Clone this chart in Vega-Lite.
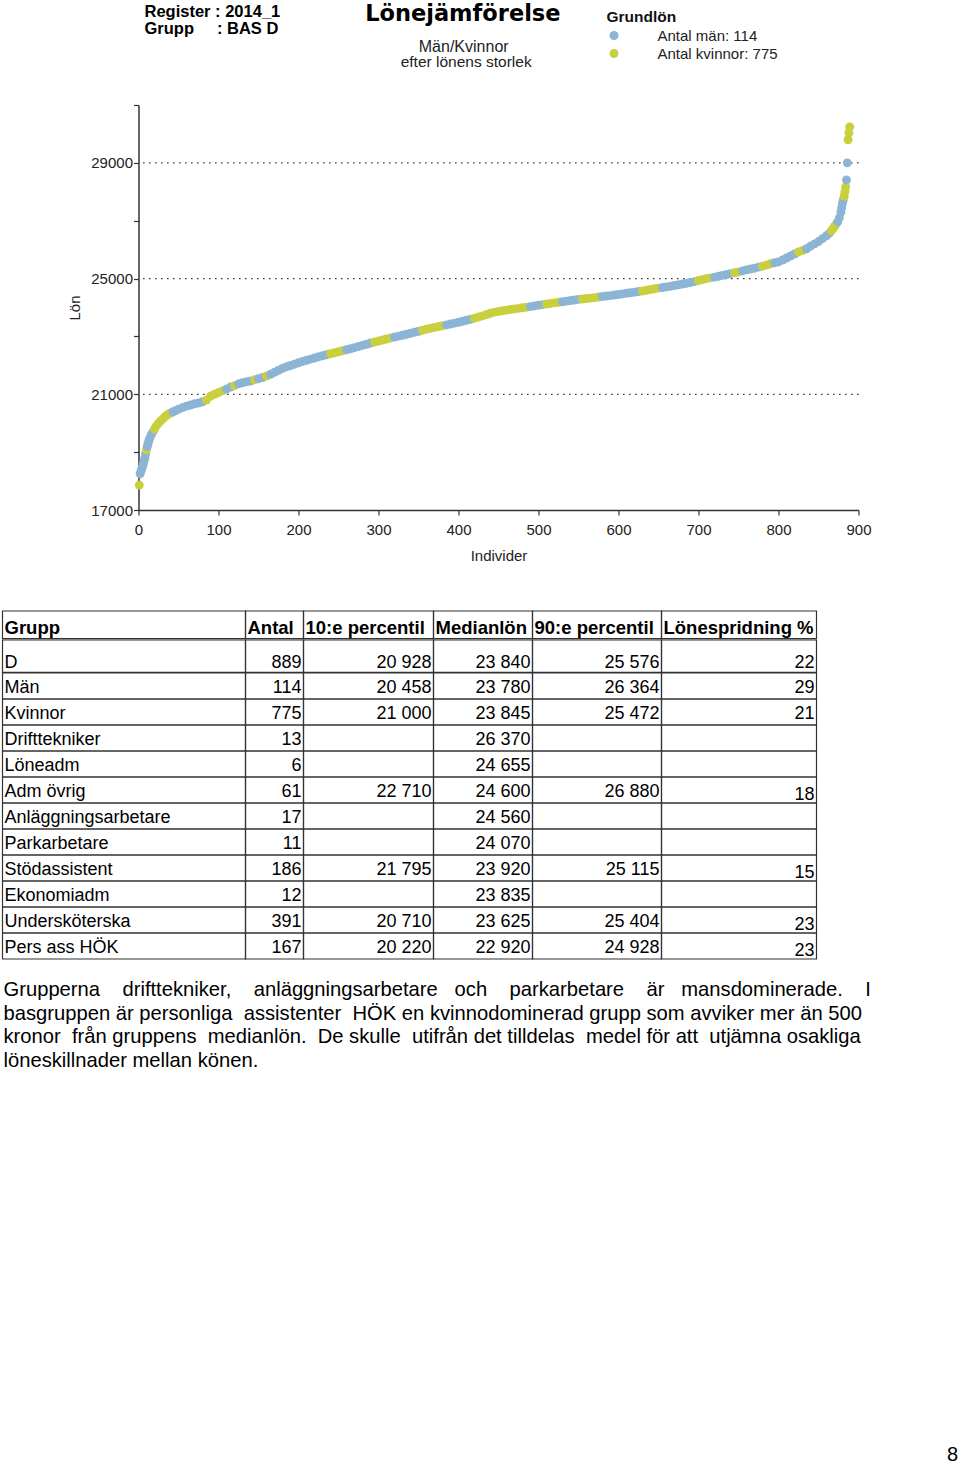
{
  "$schema": "https://vega.github.io/schema/vega-lite/v6.json",
  "background": "white",
  "padding": {"left": 1.5, "top": 2, "right": 0, "bottom": 0},
  "config": {
    "view": {"stroke": null},
    "font": "Liberation Sans",
    "locale": {"number": {"decimal": ",", "thousands": " ", "grouping": [3], "currency": ["", " kr"]}}
  },
  "datasets": {
    "loner": [
      {"nr":1,"lon":17860,"kon":"K"},{"nr":2,"lon":18250,"kon":"M"},{"nr":3,"lon":18330,"kon":"M"},{"nr":4,"lon":18420,"kon":"M"},{"nr":5,"lon":18500,"kon":"M"},{"nr":6,"lon":18600,"kon":"M"},{"nr":7,"lon":18700,"kon":"M"},{"nr":8,"lon":18800,"kon":"M"},{"nr":9,"lon":18950,"kon":"M"},{"nr":10,"lon":19080,"kon":"K"},
      {"nr":11,"lon":19200,"kon":"M"},{"nr":12,"lon":19300,"kon":"M"},{"nr":13,"lon":19400,"kon":"M"},{"nr":14,"lon":19480,"kon":"M"},{"nr":16,"lon":19600,"kon":"M"},{"nr":18,"lon":19700,"kon":"M"},{"nr":20,"lon":19800,"kon":"K"},{"nr":22,"lon":19900,"kon":"K"},{"nr":25,"lon":20000,"kon":"K"},{"nr":28,"lon":20090,"kon":"K"},
      {"nr":31,"lon":20170,"kon":"K"},{"nr":34,"lon":20250,"kon":"K"},{"nr":37,"lon":20310,"kon":"K"},{"nr":40,"lon":20350,"kon":"K"},{"nr":43,"lon":20390,"kon":"M"},{"nr":46,"lon":20430,"kon":"M"},{"nr":50,"lon":20480,"kon":"M"},{"nr":55,"lon":20540,"kon":"M"},{"nr":60,"lon":20590,"kon":"M"},{"nr":65,"lon":20630,"kon":"M"},
      {"nr":70,"lon":20670,"kon":"M"},{"nr":75,"lon":20700,"kon":"M"},{"nr":80,"lon":20740,"kon":"M"},{"nr":85,"lon":20800,"kon":"K"},{"nr":90,"lon":20930,"kon":"K"},{"nr":95,"lon":21000,"kon":"K"},{"nr":100,"lon":21060,"kon":"K"},{"nr":105,"lon":21120,"kon":"K"},{"nr":110,"lon":21180,"kon":"M"},{"nr":115,"lon":21250,"kon":"M"},
      {"nr":120,"lon":21300,"kon":"K"},{"nr":125,"lon":21360,"kon":"M"},{"nr":130,"lon":21400,"kon":"M"},{"nr":135,"lon":21430,"kon":"M"},{"nr":140,"lon":21460,"kon":"M"},{"nr":145,"lon":21500,"kon":"K"},{"nr":150,"lon":21540,"kon":"M"},{"nr":155,"lon":21580,"kon":"M"},{"nr":160,"lon":21630,"kon":"K"},{"nr":165,"lon":21690,"kon":"M"},
      {"nr":170,"lon":21760,"kon":"M"},{"nr":175,"lon":21830,"kon":"M"},{"nr":180,"lon":21900,"kon":"M"},{"nr":185,"lon":21950,"kon":"M"},{"nr":190,"lon":21995,"kon":"M"},{"nr":195,"lon":22040,"kon":"M"},{"nr":200,"lon":22090,"kon":"M"},{"nr":205,"lon":22135,"kon":"M"},{"nr":210,"lon":22175,"kon":"M"},{"nr":215,"lon":22215,"kon":"M"},
      {"nr":220,"lon":22255,"kon":"M"},{"nr":225,"lon":22295,"kon":"M"},{"nr":230,"lon":22330,"kon":"M"},{"nr":235,"lon":22365,"kon":"M"},{"nr":240,"lon":22400,"kon":"K"},{"nr":245,"lon":22435,"kon":"K"},{"nr":250,"lon":22470,"kon":"K"},{"nr":255,"lon":22505,"kon":"K"},{"nr":260,"lon":22540,"kon":"M"},{"nr":265,"lon":22575,"kon":"M"},
      {"nr":270,"lon":22610,"kon":"M"},{"nr":275,"lon":22650,"kon":"M"},{"nr":280,"lon":22690,"kon":"M"},{"nr":285,"lon":22730,"kon":"M"},{"nr":290,"lon":22770,"kon":"M"},{"nr":295,"lon":22805,"kon":"K"},{"nr":300,"lon":22840,"kon":"K"},{"nr":305,"lon":22875,"kon":"K"},{"nr":310,"lon":22910,"kon":"K"},{"nr":315,"lon":22945,"kon":"K"},
      {"nr":320,"lon":22980,"kon":"M"},{"nr":325,"lon":23010,"kon":"M"},{"nr":330,"lon":23040,"kon":"M"},{"nr":335,"lon":23075,"kon":"M"},{"nr":340,"lon":23110,"kon":"M"},{"nr":345,"lon":23145,"kon":"M"},{"nr":350,"lon":23180,"kon":"M"},{"nr":355,"lon":23215,"kon":"K"},{"nr":360,"lon":23250,"kon":"K"},{"nr":365,"lon":23280,"kon":"K"},
      {"nr":370,"lon":23310,"kon":"K"},{"nr":375,"lon":23340,"kon":"K"},{"nr":380,"lon":23370,"kon":"K"},{"nr":385,"lon":23400,"kon":"M"},{"nr":390,"lon":23430,"kon":"M"},{"nr":395,"lon":23460,"kon":"M"},{"nr":400,"lon":23490,"kon":"M"},{"nr":405,"lon":23525,"kon":"M"},{"nr":410,"lon":23560,"kon":"M"},{"nr":415,"lon":23595,"kon":"M"},
      {"nr":420,"lon":23630,"kon":"K"},{"nr":425,"lon":23670,"kon":"K"},{"nr":430,"lon":23710,"kon":"K"},{"nr":435,"lon":23755,"kon":"K"},{"nr":440,"lon":23800,"kon":"K"},{"nr":445,"lon":23840,"kon":"K"},{"nr":450,"lon":23860,"kon":"K"},{"nr":455,"lon":23885,"kon":"K"},{"nr":460,"lon":23910,"kon":"K"},{"nr":465,"lon":23930,"kon":"K"},
      {"nr":470,"lon":23950,"kon":"K"},{"nr":475,"lon":23970,"kon":"K"},{"nr":480,"lon":23990,"kon":"K"},{"nr":485,"lon":24010,"kon":"K"},{"nr":490,"lon":24030,"kon":"M"},{"nr":495,"lon":24055,"kon":"M"},{"nr":500,"lon":24080,"kon":"M"},{"nr":505,"lon":24100,"kon":"M"},{"nr":510,"lon":24120,"kon":"K"},{"nr":515,"lon":24140,"kon":"K"},
      {"nr":520,"lon":24160,"kon":"K"},{"nr":525,"lon":24180,"kon":"K"},{"nr":530,"lon":24200,"kon":"M"},{"nr":535,"lon":24220,"kon":"M"},{"nr":540,"lon":24240,"kon":"M"},{"nr":545,"lon":24260,"kon":"M"},{"nr":550,"lon":24280,"kon":"M"},{"nr":555,"lon":24295,"kon":"K"},{"nr":560,"lon":24310,"kon":"K"},{"nr":565,"lon":24325,"kon":"K"},
      {"nr":570,"lon":24340,"kon":"K"},{"nr":575,"lon":24360,"kon":"K"},{"nr":580,"lon":24380,"kon":"M"},{"nr":585,"lon":24395,"kon":"M"},{"nr":590,"lon":24410,"kon":"M"},{"nr":595,"lon":24430,"kon":"M"},{"nr":600,"lon":24450,"kon":"M"},{"nr":605,"lon":24470,"kon":"M"},{"nr":610,"lon":24490,"kon":"M"},{"nr":615,"lon":24510,"kon":"M"},
      {"nr":620,"lon":24530,"kon":"M"},{"nr":625,"lon":24550,"kon":"M"},{"nr":630,"lon":24570,"kon":"K"},{"nr":635,"lon":24595,"kon":"K"},{"nr":640,"lon":24620,"kon":"K"},{"nr":645,"lon":24645,"kon":"K"},{"nr":650,"lon":24670,"kon":"K"},{"nr":655,"lon":24690,"kon":"M"},{"nr":660,"lon":24710,"kon":"M"},{"nr":665,"lon":24735,"kon":"M"},
      {"nr":670,"lon":24760,"kon":"M"},{"nr":675,"lon":24785,"kon":"M"},{"nr":680,"lon":24810,"kon":"M"},{"nr":685,"lon":24835,"kon":"M"},{"nr":690,"lon":24860,"kon":"M"},{"nr":695,"lon":24895,"kon":"M"},{"nr":700,"lon":24930,"kon":"K"},{"nr":705,"lon":24965,"kon":"K"},{"nr":710,"lon":25000,"kon":"K"},{"nr":715,"lon":25025,"kon":"K"},
      {"nr":720,"lon":25050,"kon":"M"},{"nr":725,"lon":25080,"kon":"M"},{"nr":730,"lon":25110,"kon":"M"},{"nr":735,"lon":25140,"kon":"M"},{"nr":740,"lon":25170,"kon":"M"},{"nr":745,"lon":25200,"kon":"K"},{"nr":750,"lon":25230,"kon":"K"},{"nr":755,"lon":25265,"kon":"M"},{"nr":760,"lon":25300,"kon":"M"},{"nr":765,"lon":25330,"kon":"M"},
      {"nr":770,"lon":25360,"kon":"M"},{"nr":775,"lon":25395,"kon":"M"},{"nr":780,"lon":25430,"kon":"K"},{"nr":785,"lon":25470,"kon":"K"},{"nr":790,"lon":25510,"kon":"K"},{"nr":795,"lon":25545,"kon":"M"},{"nr":800,"lon":25576,"kon":"M"},{"nr":805,"lon":25640,"kon":"M"},{"nr":810,"lon":25710,"kon":"M"},{"nr":815,"lon":25780,"kon":"M"},
      {"nr":820,"lon":25850,"kon":"M"},{"nr":825,"lon":25920,"kon":"K"},{"nr":830,"lon":25970,"kon":"K"},{"nr":835,"lon":26030,"kon":"M"},{"nr":840,"lon":26120,"kon":"M"},{"nr":845,"lon":26200,"kon":"M"},{"nr":850,"lon":26280,"kon":"M"},{"nr":855,"lon":26380,"kon":"M"},{"nr":860,"lon":26480,"kon":"M"},{"nr":864,"lon":26580,"kon":"M"},
      {"nr":866,"lon":26650,"kon":"K"},{"nr":868,"lon":26720,"kon":"K"},{"nr":870,"lon":26800,"kon":"K"},{"nr":872,"lon":26880,"kon":"K"},{"nr":874,"lon":26960,"kon":"M"},{"nr":876,"lon":27100,"kon":"M"},{"nr":878,"lon":27300,"kon":"M"},{"nr":879,"lon":27450,"kon":"M"},{"nr":880,"lon":27600,"kon":"M"},{"nr":881,"lon":27720,"kon":"M"},
      {"nr":882,"lon":27850,"kon":"K"},{"nr":883,"lon":28000,"kon":"K"},{"nr":884,"lon":28170,"kon":"K"},{"nr":885,"lon":28410,"kon":"M"},{"nr":886,"lon":29000,"kon":"M"},{"nr":887,"lon":29800,"kon":"K"},{"nr":888,"lon":30040,"kon":"K"},{"nr":889,"lon":30244,"kon":"K"}
    ],
    "tabell": [
      {"grupp":"D","antal":889,"p10":20928,"median":23840,"p90":25576,"spridning":22},
      {"grupp":"Män","antal":114,"p10":20458,"median":23780,"p90":26364,"spridning":29},
      {"grupp":"Kvinnor","antal":775,"p10":21000,"median":23845,"p90":25472,"spridning":21},
      {"grupp":"Drifttekniker","antal":13,"p10":null,"median":26370,"p90":null,"spridning":null},
      {"grupp":"Löneadm","antal":6,"p10":null,"median":24655,"p90":null,"spridning":null},
      {"grupp":"Adm övrig","antal":61,"p10":22710,"median":24600,"p90":26880,"spridning":18},
      {"grupp":"Anläggningsarbetare","antal":17,"p10":null,"median":24560,"p90":null,"spridning":null},
      {"grupp":"Parkarbetare","antal":11,"p10":null,"median":24070,"p90":null,"spridning":null},
      {"grupp":"Stödassistent","antal":186,"p10":21795,"median":23920,"p90":25115,"spridning":15},
      {"grupp":"Ekonomiadm","antal":12,"p10":null,"median":23835,"p90":null,"spridning":null},
      {"grupp":"Undersköterska","antal":391,"p10":20710,"median":23625,"p90":25404,"spridning":23},
      {"grupp":"Pers ass HÖK","antal":167,"p10":20220,"median":22920,"p90":24928,"spridning":23}
    ],
    "stycke": [
      {"rad":1,"text":"Grupperna \u00a0\u00a0\u00a0drifttekniker, \u00a0\u00a0\u00a0anläggningsarbetare \u00a0\u00a0och \u00a0\u00a0\u00a0parkarbetare \u00a0\u00a0\u00a0är \u00a0\u00a0mansdominerade. \u00a0\u00a0\u00a0I"},
      {"rad":2,"text":"basgruppen är personliga \u00a0assistenter \u00a0HÖK en kvinnodominerad grupp som avviker mer än 500"},
      {"rad":3,"text":"kronor \u00a0från gruppens \u00a0medianlön. \u00a0De skulle \u00a0utifrån det tilldelas \u00a0medel för att \u00a0utjämna osakliga"},
      {"rad":4,"text":"löneskillnader mellan könen."}
    ]
  },
  "spacing": 0,
  "vconcat": [
    {
      "spacing": 0,
      "hconcat": [
        {"width": 64.8, "height": 1, "data": {"values": []}, "mark": "point"},
        {
          "width": 720,
          "height": 405,
          "data": {"name": "loner"},
          "layer": [
            {
              "data": {"values": [{"lon": 21000}, {"lon": 25000}, {"lon": 29000}]},
              "mark": {"type": "rule", "color": "#111", "strokeDash": [1.3, 4.7], "strokeWidth": 1.3},
              "encoding": {
                "y": {"field": "lon", "type": "quantitative", "title": "Lön", "scale": {"domain": [17000, 31000], "nice": false, "zero": false}}
              }
            },
            {
              "mark": {"type": "circle", "size": 80, "opacity": 1},
              "encoding": {
                "x": {
                  "field": "nr", "type": "quantitative", "title": "Individer",
                  "scale": {"domain": [0, 900], "nice": false, "zero": false},
                  "axis": {
                    "values": [0,50,100,150,200,250,300,350,400,450,500,550,600,650,700,750,800,850,900],
                    "labelExpr": "datum.value % 100 === 0 ? datum.label : ''",
                    "format": "d", "grid": false, "tickSize": 5, "tickWidth": 1.2, "tickColor": "#333",
                    "domainColor": "#333", "domainWidth": 1.5, "labelFont": "Liberation Sans", "labelFontSize": 15,
                    "labelColor": "#222", "labelPadding": 7, "labelFlush": false, "labelOverlap": false,
                    "titleFont": "Liberation Sans", "titleFontSize": 15, "titleFontWeight": "normal", "titleColor": "#222", "titlePadding": 11
                  }
                },
                "y": {
                  "field": "lon", "type": "quantitative", "title": "Lön",
                  "scale": {"domain": [17000, 31000], "nice": false, "zero": false},
                  "axis": {
                    "values": [17000,19000,21000,23000,25000,27000,29000,31000],
                    "labelExpr": "(datum.value - 17000) % 4000 === 0 ? datum.label : ''",
                    "format": "d", "grid": false, "tickSize": 5, "tickWidth": 1.2, "tickColor": "#333",
                    "domainColor": "#333", "domainWidth": 1.5, "labelFont": "Liberation Sans", "labelFontSize": 15,
                    "labelColor": "#222", "labelPadding": 1, "labelFlush": false, "labelOverlap": false,
                    "titleFont": "Liberation Sans", "titleFontSize": 15, "titleFontWeight": "normal", "titleColor": "#222", "titlePadding": 8
                  }
                },
                "color": {
                  "field": "kon", "type": "nominal",
                  "scale": {"domain": ["M", "K"], "range": ["#8cb4d4", "#c8d03e"]},
                  "legend": {
                    "orient": "none", "legendX": 604, "legendY": -95.5, "padding": 0,
                    "title": "Grundlön", "titleFont": "Liberation Sans", "titleFontSize": 15.5, "titleFontWeight": "bold", "titleColor": "#111", "titlePadding": 3,
                    "labelExpr": "datum.value === 'M' ? 'Antal män: 114' : 'Antal kvinnor: 775'",
                    "labelFont": "Liberation Sans", "labelFontSize": 15, "labelColor": "#222", "labelOffset": 36,
                    "symbolType": "circle", "symbolSize": 80, "symbolOpacity": 1, "symbolStrokeWidth": 0, "rowPadding": 2
                  }
                }
              }
            },
            {
              "data": {"values": [{}]},
              "mark": {"type": "text", "text": "Register : 2014_1", "align": "left", "baseline": "alphabetic", "font": "Liberation Sans", "fontSize": 16.5, "fontWeight": "bold", "color": "#000"},
              "encoding": {"x": {"datum": 7.5, "type": "quantitative"}, "y": {"datum": 34052, "type": "quantitative"}}
            },
            {
              "data": {"values": [{}]},
              "mark": {"type": "text", "text": "Grupp\u00a0\u00a0\u00a0\u00a0\u00a0: BAS D", "align": "left", "baseline": "alphabetic", "font": "Liberation Sans", "fontSize": 16.5, "fontWeight": "bold", "color": "#000"},
              "encoding": {"x": {"datum": 7.5, "type": "quantitative"}, "y": {"datum": 33454, "type": "quantitative"}}
            },
            {
              "data": {"values": [{}]},
              "mark": {"type": "text", "text": "Lönejämförelse", "align": "center", "baseline": "alphabetic", "font": "DejaVu Sans", "fontSize": 22.5, "fontWeight": "bold", "color": "#000"},
              "encoding": {"x": {"datum": 405.4, "type": "quantitative"}, "y": {"datum": 33914, "type": "quantitative"}}
            },
            {
              "data": {"values": [{}]},
              "mark": {"type": "text", "text": "Män/Kvinnor", "align": "center", "baseline": "alphabetic", "font": "Liberation Sans", "fontSize": 16, "color": "#222"},
              "encoding": {"x": {"datum": 406.5, "type": "quantitative"}, "y": {"datum": 32842, "type": "quantitative"}}
            },
            {
              "data": {"values": [{}]},
              "mark": {"type": "text", "text": "efter lönens storlek", "align": "center", "baseline": "alphabetic", "font": "Liberation Sans", "fontSize": 15.5, "color": "#222"},
              "encoding": {"x": {"datum": 409.6, "type": "quantitative"}, "y": {"datum": 32324, "type": "quantitative"}}
            }
          ]
        }
      ]
    },
    {"width": 1, "height": 46.7, "data": {"values": []}, "mark": "point"},
    {
      "spacing": -1,
      "vconcat": [
        {
          "spacing": 0,
          "bounds": "flush",
          "hconcat": [
            {"width": 243, "height": 27.6, "data": {"values": [{}]}, "layer": [
              {"mark": {"type": "rect", "fill": "transparent", "stroke": "#333", "strokeWidth": 1.2}, "encoding": {}},
              {"mark": {"type": "text", "text": "Grupp", "align": "left", "baseline": "alphabetic", "dx": 2, "dy": -4.3, "font": "Liberation Sans", "fontSize": 18.5, "fontWeight": "bold", "color": "#000"}, "encoding": {"x": {"value": 0}, "y": {"value": "height"}}}
            ]},
            {"width": 58, "height": 27.6, "data": {"values": [{}]}, "layer": [
              {"mark": {"type": "rect", "fill": "transparent", "stroke": "#333", "strokeWidth": 1.2}, "encoding": {}},
              {"mark": {"type": "text", "text": "Antal", "align": "left", "baseline": "alphabetic", "dx": 2, "dy": -4.3, "font": "Liberation Sans", "fontSize": 18.5, "fontWeight": "bold", "color": "#000"}, "encoding": {"x": {"value": 0}, "y": {"value": "height"}}}
            ]},
            {"width": 130, "height": 27.6, "data": {"values": [{}]}, "layer": [
              {"mark": {"type": "rect", "fill": "transparent", "stroke": "#333", "strokeWidth": 1.2}, "encoding": {}},
              {"mark": {"type": "text", "text": "10:e percentil", "align": "left", "baseline": "alphabetic", "dx": 2, "dy": -4.3, "font": "Liberation Sans", "fontSize": 18.5, "fontWeight": "bold", "color": "#000"}, "encoding": {"x": {"value": 0}, "y": {"value": "height"}}}
            ]},
            {"width": 99, "height": 27.6, "data": {"values": [{}]}, "layer": [
              {"mark": {"type": "rect", "fill": "transparent", "stroke": "#333", "strokeWidth": 1.2}, "encoding": {}},
              {"mark": {"type": "text", "text": "Medianlön", "align": "left", "baseline": "alphabetic", "dx": 2, "dy": -4.3, "font": "Liberation Sans", "fontSize": 18.5, "fontWeight": "bold", "color": "#000"}, "encoding": {"x": {"value": 0}, "y": {"value": "height"}}}
            ]},
            {"width": 129, "height": 27.6, "data": {"values": [{}]}, "layer": [
              {"mark": {"type": "rect", "fill": "transparent", "stroke": "#333", "strokeWidth": 1.2}, "encoding": {}},
              {"mark": {"type": "text", "text": "90:e percentil", "align": "left", "baseline": "alphabetic", "dx": 2, "dy": -4.3, "font": "Liberation Sans", "fontSize": 18.5, "fontWeight": "bold", "color": "#000"}, "encoding": {"x": {"value": 0}, "y": {"value": "height"}}}
            ]},
            {"width": 155, "height": 27.6, "data": {"values": [{}]}, "layer": [
              {"mark": {"type": "rect", "fill": "transparent", "stroke": "#333", "strokeWidth": 1.2}, "encoding": {}},
              {"mark": {"type": "text", "text": "Lönespridning %", "align": "left", "baseline": "alphabetic", "dx": 2, "dy": -4.3, "font": "Liberation Sans", "fontSize": 18.5, "fontWeight": "bold", "color": "#000"}, "encoding": {"x": {"value": 0}, "y": {"value": "height"}}}
            ]}
          ]
        },
        {
          "spacing": 0,
          "bounds": "flush",
          "hconcat": [
            {"width": 243, "height": 32.4, "data": {"name": "tabell"}, "transform": [{"filter": "datum.grupp === 'D'"}], "layer": [
              {"mark": {"type": "rect", "fill": "transparent", "stroke": "#333", "strokeWidth": 1.2}, "encoding": {}},
              {"mark": {"type": "text", "align": "left", "baseline": "bottom", "dx": 2, "font": "Liberation Sans", "fontSize": 18, "color": "#000"}, "encoding": {"x": {"value": 0}, "y": {"value": "height"}, "text": {"field": "grupp"}}}
            ]},
            {"width": 58, "height": 32.4, "data": {"name": "tabell"}, "transform": [{"filter": "datum.grupp === 'D'"}], "layer": [
              {"mark": {"type": "rect", "fill": "transparent", "stroke": "#333", "strokeWidth": 1.2}, "encoding": {}},
              {"mark": {"type": "text", "align": "right", "baseline": "bottom", "dx": -2, "font": "Liberation Sans", "fontSize": 18, "color": "#000"}, "encoding": {"x": {"value": "width"}, "y": {"value": "height"}, "text": {"field": "antal", "type": "quantitative", "format": ",d"}}}
            ]},
            {"width": 130, "height": 32.4, "data": {"name": "tabell"}, "transform": [{"filter": "datum.grupp === 'D'"}], "layer": [
              {"mark": {"type": "rect", "fill": "transparent", "stroke": "#333", "strokeWidth": 1.2}, "encoding": {}},
              {"mark": {"type": "text", "align": "right", "baseline": "bottom", "dx": -2, "font": "Liberation Sans", "fontSize": 18, "color": "#000"}, "encoding": {"x": {"value": "width"}, "y": {"value": "height"}, "text": {"field": "p10", "type": "quantitative", "format": ",d"}}}
            ]},
            {"width": 99, "height": 32.4, "data": {"name": "tabell"}, "transform": [{"filter": "datum.grupp === 'D'"}], "layer": [
              {"mark": {"type": "rect", "fill": "transparent", "stroke": "#333", "strokeWidth": 1.2}, "encoding": {}},
              {"mark": {"type": "text", "align": "right", "baseline": "bottom", "dx": -2, "font": "Liberation Sans", "fontSize": 18, "color": "#000"}, "encoding": {"x": {"value": "width"}, "y": {"value": "height"}, "text": {"field": "median", "type": "quantitative", "format": ",d"}}}
            ]},
            {"width": 129, "height": 32.4, "data": {"name": "tabell"}, "transform": [{"filter": "datum.grupp === 'D'"}], "layer": [
              {"mark": {"type": "rect", "fill": "transparent", "stroke": "#333", "strokeWidth": 1.2}, "encoding": {}},
              {"mark": {"type": "text", "align": "right", "baseline": "bottom", "dx": -2, "font": "Liberation Sans", "fontSize": 18, "color": "#000"}, "encoding": {"x": {"value": "width"}, "y": {"value": "height"}, "text": {"field": "p90", "type": "quantitative", "format": ",d"}}}
            ]},
            {"width": 155, "height": 32.4, "data": {"name": "tabell"}, "transform": [{"filter": "datum.grupp === 'D'"}], "layer": [
              {"mark": {"type": "rect", "fill": "transparent", "stroke": "#333", "strokeWidth": 1.2}, "encoding": {}},
              {"mark": {"type": "text", "align": "right", "baseline": "bottom", "dx": -2, "font": "Liberation Sans", "fontSize": 18, "color": "#000"}, "encoding": {"x": {"value": "width"}, "y": {"value": "height"}, "text": {"field": "spridning", "type": "quantitative", "format": "d"}}}
            ]}
          ]
        },
        {
          "spacing": 0,
          "bounds": "flush",
          "hconcat": [
            {"width": 243, "height": 286, "data": {"name": "tabell"}, "transform": [{"filter": "datum.grupp !== 'D'"}], "layer": [
              {"mark": {"type": "rect", "fill": "transparent", "stroke": "#333", "strokeWidth": 1.2}, "encoding": {"y": {"field": "grupp", "type": "nominal", "sort": null, "axis": null, "scale": {"paddingInner": 0, "paddingOuter": 0}}}},
              {"mark": {"type": "text", "align": "left", "baseline": "alphabetic", "dx": 2, "dy": -6, "font": "Liberation Sans", "fontSize": 18, "color": "#000"}, "encoding": {"x": {"value": 0}, "y": {"field": "grupp", "type": "nominal", "sort": null, "axis": null, "bandPosition": 1}, "text": {"field": "grupp"}}}
            ]},
            {"width": 58, "height": 286, "data": {"name": "tabell"}, "transform": [{"filter": "datum.grupp !== 'D'"}], "layer": [
              {"mark": {"type": "rect", "fill": "transparent", "stroke": "#333", "strokeWidth": 1.2}, "encoding": {"y": {"field": "grupp", "type": "nominal", "sort": null, "axis": null, "scale": {"paddingInner": 0, "paddingOuter": 0}}}},
              {"transform": [{"filter": "isValid(datum.antal)"}], "mark": {"type": "text", "align": "right", "baseline": "alphabetic", "dx": -2, "dy": -6, "font": "Liberation Sans", "fontSize": 18, "color": "#000"}, "encoding": {"x": {"value": "width"}, "y": {"field": "grupp", "type": "nominal", "sort": null, "axis": null, "bandPosition": 1}, "text": {"field": "antal", "type": "quantitative", "format": ",d"}}}
            ]},
            {"width": 130, "height": 286, "data": {"name": "tabell"}, "transform": [{"filter": "datum.grupp !== 'D'"}], "layer": [
              {"mark": {"type": "rect", "fill": "transparent", "stroke": "#333", "strokeWidth": 1.2}, "encoding": {"y": {"field": "grupp", "type": "nominal", "sort": null, "axis": null, "scale": {"paddingInner": 0, "paddingOuter": 0}}}},
              {"transform": [{"filter": "isValid(datum.p10)"}], "mark": {"type": "text", "align": "right", "baseline": "alphabetic", "dx": -2, "dy": -6, "font": "Liberation Sans", "fontSize": 18, "color": "#000"}, "encoding": {"x": {"value": "width"}, "y": {"field": "grupp", "type": "nominal", "sort": null, "axis": null, "bandPosition": 1}, "text": {"field": "p10", "type": "quantitative", "format": ",d"}}}
            ]},
            {"width": 99, "height": 286, "data": {"name": "tabell"}, "transform": [{"filter": "datum.grupp !== 'D'"}], "layer": [
              {"mark": {"type": "rect", "fill": "transparent", "stroke": "#333", "strokeWidth": 1.2}, "encoding": {"y": {"field": "grupp", "type": "nominal", "sort": null, "axis": null, "scale": {"paddingInner": 0, "paddingOuter": 0}}}},
              {"transform": [{"filter": "isValid(datum.median)"}], "mark": {"type": "text", "align": "right", "baseline": "alphabetic", "dx": -2, "dy": -6, "font": "Liberation Sans", "fontSize": 18, "color": "#000"}, "encoding": {"x": {"value": "width"}, "y": {"field": "grupp", "type": "nominal", "sort": null, "axis": null, "bandPosition": 1}, "text": {"field": "median", "type": "quantitative", "format": ",d"}}}
            ]},
            {"width": 129, "height": 286, "data": {"name": "tabell"}, "transform": [{"filter": "datum.grupp !== 'D'"}], "layer": [
              {"mark": {"type": "rect", "fill": "transparent", "stroke": "#333", "strokeWidth": 1.2}, "encoding": {"y": {"field": "grupp", "type": "nominal", "sort": null, "axis": null, "scale": {"paddingInner": 0, "paddingOuter": 0}}}},
              {"transform": [{"filter": "isValid(datum.p90)"}], "mark": {"type": "text", "align": "right", "baseline": "alphabetic", "dx": -2, "dy": -6, "font": "Liberation Sans", "fontSize": 18, "color": "#000"}, "encoding": {"x": {"value": "width"}, "y": {"field": "grupp", "type": "nominal", "sort": null, "axis": null, "bandPosition": 1}, "text": {"field": "p90", "type": "quantitative", "format": ",d"}}}
            ]},
            {"width": 155, "height": 286, "data": {"name": "tabell"}, "transform": [{"filter": "datum.grupp !== 'D'"}], "layer": [
              {"mark": {"type": "rect", "fill": "transparent", "stroke": "#333", "strokeWidth": 1.2}, "encoding": {"y": {"field": "grupp", "type": "nominal", "sort": null, "axis": null, "scale": {"paddingInner": 0, "paddingOuter": 0}}}},
              {"transform": [{"filter": "isValid(datum.spridning) && (datum.grupp === 'Män' || datum.grupp === 'Kvinnor')"}], "mark": {"type": "text", "align": "right", "baseline": "alphabetic", "dx": -2, "dy": -6, "font": "Liberation Sans", "fontSize": 18, "color": "#000"}, "encoding": {"x": {"value": "width"}, "y": {"field": "grupp", "type": "nominal", "sort": null, "axis": null, "bandPosition": 1}, "text": {"field": "spridning", "type": "quantitative", "format": "d"}}},
              {"transform": [{"filter": "isValid(datum.spridning) && datum.grupp !== 'Män' && datum.grupp !== 'Kvinnor'"}], "mark": {"type": "text", "align": "right", "baseline": "alphabetic", "dx": -2, "dy": -3, "font": "Liberation Sans", "fontSize": 18, "color": "#000"}, "encoding": {"x": {"value": "width"}, "y": {"field": "grupp", "type": "nominal", "sort": null, "axis": null, "bandPosition": 1}, "text": {"field": "spridning", "type": "quantitative", "format": "d"}}}
            ]}
          ]
        }
      ]
    },
    {"width": 1, "height": 16.1, "data": {"values": []}, "mark": "point"},
    {
      "width": 870,
      "height": 93.6,
      "data": {"name": "stycke"},
      "mark": {"type": "text", "align": "left", "baseline": "alphabetic", "dx": 1, "dy": -4, "font": "Liberation Sans", "fontSize": 20.2, "color": "#000"},
      "encoding": {
        "x": {"value": 0},
        "y": {"field": "rad", "type": "ordinal", "bandPosition": 1, "axis": null, "scale": {"type": "band", "paddingInner": 0, "paddingOuter": 0}},
        "text": {"field": "text"}
      }
    },
    {"width": 1, "height": 370.8, "data": {"values": []}, "mark": "point"},
    {
      "width": 955.5,
      "height": 20,
      "data": {"values": [{"sida": "8"}]},
      "mark": {"type": "text", "align": "right", "baseline": "alphabetic", "dy": -1, "font": "Liberation Sans", "fontSize": 20, "color": "#000"},
      "encoding": {"x": {"value": "width"}, "y": {"value": "height"}, "text": {"field": "sida"}}
    }
  ]
}
